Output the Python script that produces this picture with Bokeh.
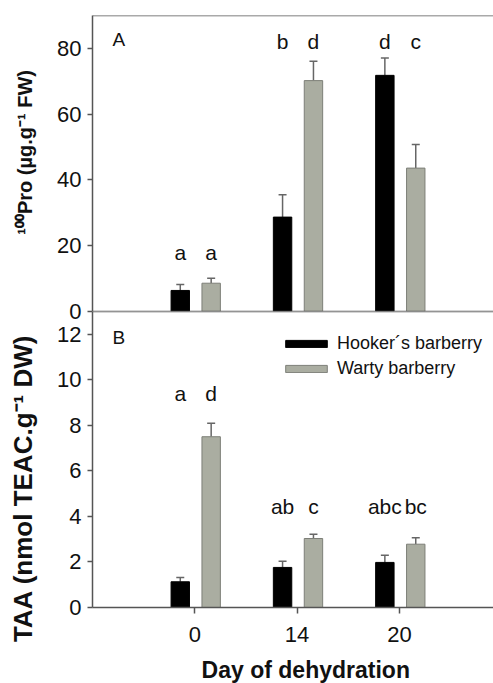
from bokeh.plotting import figure
from bokeh.models import (Range1d, FixedTicker, Span, Whisker, TeeHead, ColumnDataSource,
                          Legend, LegendItem, Label)
from bokeh.layouts import column
from bokeh.embed import file_html
from bokeh.resources import INLINE
from bokeh.core.properties import value

# ---------------- data ----------------
days = ["0", "14", "20"]
series = ["Hooker\u00b4s barberry", "Warty barberry"]

pro_hooker = [6.4, 28.7, 71.8]
pro_hooker_err = [1.8, 6.8, 5.3]
pro_warty = [8.6, 70.2, 43.6]
pro_warty_err = [1.5, 5.9, 7.2]
pro_hooker_letters = ["a", "b", "d"]
pro_warty_letters = ["a", "d", "c"]
pro_letter_level = [18, 82, 82]

taa_hooker = [1.13, 1.76, 1.98]
taa_hooker_err = [0.19, 0.27, 0.32]
taa_warty = [7.5, 3.03, 2.78]
taa_warty_err = [0.59, 0.19, 0.28]
taa_hooker_letters = ["a", "ab", "abc"]
taa_warty_letters = ["d", "c", "bc"]
taa_letter_level = [9.4, 4.45, 4.45]

pro_ticks = [0, 20, 40, 60, 80]
taa_ticks = [0, 2, 4, 6, 8, 10, 12]

pro_label = "\u00b9\u2070\u2070Pro (\u00b5g.g\u207b\u00b9 FW)"
taa_label = "TAA (nmol TEAC.g\u207b\u00b9 DW)"
x_label = "Day of dehydration"

# ---------------- style ----------------
FONT = "Liberation Sans"
BLACK = "#000000"
GREY = "#aaada1"
GREY_EDGE = "#7d7f78"
AXIS = "#555555"
ERR = "#666666"
TXT = "#111111"
OFF_H = -0.142
OFF_W = 0.16
BAR_W = 0.18
FRAME_W = 401
FRAME_H = 296
OVERLAP = 50
NB = "\u00a0"   # non-breaking space used to nudge centred axis labels

group_x = [i + 1 for i in range(len(days))]
x_range = Range1d(0, 3.92)


def style_axis(ax, size="22px"):
    ax.axis_line_color = AXIS
    ax.axis_line_width = 1.5
    ax.major_tick_line_color = AXIS
    ax.major_tick_line_width = 1.5
    ax.major_tick_out = 5
    ax.major_tick_in = 0
    ax.minor_tick_line_color = None
    ax.major_label_text_font = FONT
    ax.major_label_text_font_size = size
    ax.major_label_text_color = TXT
    ax.axis_label_text_font = FONT
    ax.axis_label_text_font_style = "bold"
    ax.axis_label_text_color = TXT


def add_series(p, vals, errs, letters, levels, off, fill, edge):
    xs = [g + off for g in group_x]
    src = ColumnDataSource(dict(x=xs, top=vals,
                                upper=[v + e for v, e in zip(vals, errs)],
                                lab=letters, ly=levels))
    wh = Whisker(source=src, base="x", lower="top", upper="upper",
                 line_color=ERR, line_width=1.5, lower_head=None,
                 upper_head=TeeHead(size=8, line_color=ERR, line_width=1.5),
                 level="underlay")
    p.add_layout(wh)
    r = p.vbar(x="x", top="top", bottom=0, width=BAR_W, source=src,
               fill_color=fill, line_color=edge, line_width=1)
    p.text(x="x", y="ly", text="lab", source=src, text_align="center",
           text_baseline="alphabetic", text_font=value(FONT),
           text_font_size="21px", text_color=TXT)
    return r


# ---------------- panel A ----------------
pA = figure(frame_width=FRAME_W, frame_height=FRAME_H, x_range=x_range,
            y_range=Range1d(0, 90), x_axis_location=None,
            output_backend="svg", toolbar_location=None,
            min_border_left=92, min_border_right=0,
            min_border_top=15, min_border_bottom=OVERLAP)
pA.outline_line_color = None
pA.grid.visible = False
pA.yaxis.ticker = FixedTicker(ticks=pro_ticks)
style_axis(pA.yaxis[0])
pA.yaxis.major_label_standoff = 6
pA.yaxis.axis_label = NB * 4 + pro_label
pA.yaxis.axis_label_text_font_size = "20px"
pA.yaxis.axis_label_standoff = 18
pA.add_layout(Span(location=90, dimension="width", line_color=AXIS, line_width=1.5))
pA.add_layout(Span(location=0, dimension="width", line_color=AXIS, line_width=1.5))
add_series(pA, pro_hooker, pro_hooker_err, pro_hooker_letters, pro_letter_level,
           OFF_H, BLACK, BLACK)
add_series(pA, pro_warty, pro_warty_err, pro_warty_letters, pro_letter_level,
           OFF_W, GREY, GREY_EDGE)
pA.add_layout(Label(x=20, y=262, x_units="screen", y_units="screen", text="A",
                    text_font=FONT, text_font_size="19px", text_color=TXT))

# ---------------- panel B ----------------
pB = figure(frame_width=FRAME_W, frame_height=FRAME_H, x_range=x_range,
            y_range=Range1d(0, 13),
            output_backend="svg", toolbar_location=None,
            min_border_left=92, min_border_right=0,
            min_border_top=OVERLAP, min_border_bottom=76,
            margin=(-2 * OVERLAP, 0, 0, 0))
pB.border_fill_alpha = 0
pB.outline_line_color = None
pB.grid.visible = False
pB.yaxis.ticker = FixedTicker(ticks=taa_ticks)
style_axis(pB.yaxis[0])
pB.yaxis.major_label_standoff = 6
pB.yaxis.axis_label = taa_label + NB * 8
pB.yaxis.axis_label_text_font_size = "26px"
pB.yaxis.axis_label_standoff = 16
pB.xaxis.ticker = FixedTicker(ticks=group_x)
pB.xaxis.major_label_overrides = {g: d for g, d in zip(group_x, days)}
style_axis(pB.xaxis[0])
pB.xaxis.major_tick_out = 6
pB.xaxis.major_label_standoff = 13
pB.xaxis.axis_label = NB * 4 + x_label
pB.xaxis.axis_label_text_font_size = "23px"
pB.xaxis.axis_label_standoff = 12
pB.add_layout(Span(location=13, dimension="width", line_color=AXIS, line_width=1.5))

rH = add_series(pB, taa_hooker, taa_hooker_err, taa_hooker_letters, taa_letter_level,
                OFF_H, BLACK, BLACK)
rW = add_series(pB, taa_warty, taa_warty_err, taa_warty_letters, taa_letter_level,
                OFF_W, GREY, GREY_EDGE)
pB.add_layout(Label(x=20, y=260, x_units="screen", y_units="screen", text="B",
                    text_font=FONT, text_font_size="19px", text_color=TXT))

legend = Legend(items=[LegendItem(label=series[0], renderers=[rH]),
                       LegendItem(label=series[1], renderers=[rW])],
                location=(188, 228), padding=0, margin=0, spacing=4,
                glyph_width=52, glyph_height=9, label_height=21,
                label_standoff=5, border_line_color=None,
                background_fill_alpha=0,
                label_text_font=FONT, label_text_font_size="18px",
                label_text_color=TXT)
pB.add_layout(legend, "center")

layout = column(pA, pB, spacing=0)
open("out.html", "w").write(file_html(layout, INLINE))
